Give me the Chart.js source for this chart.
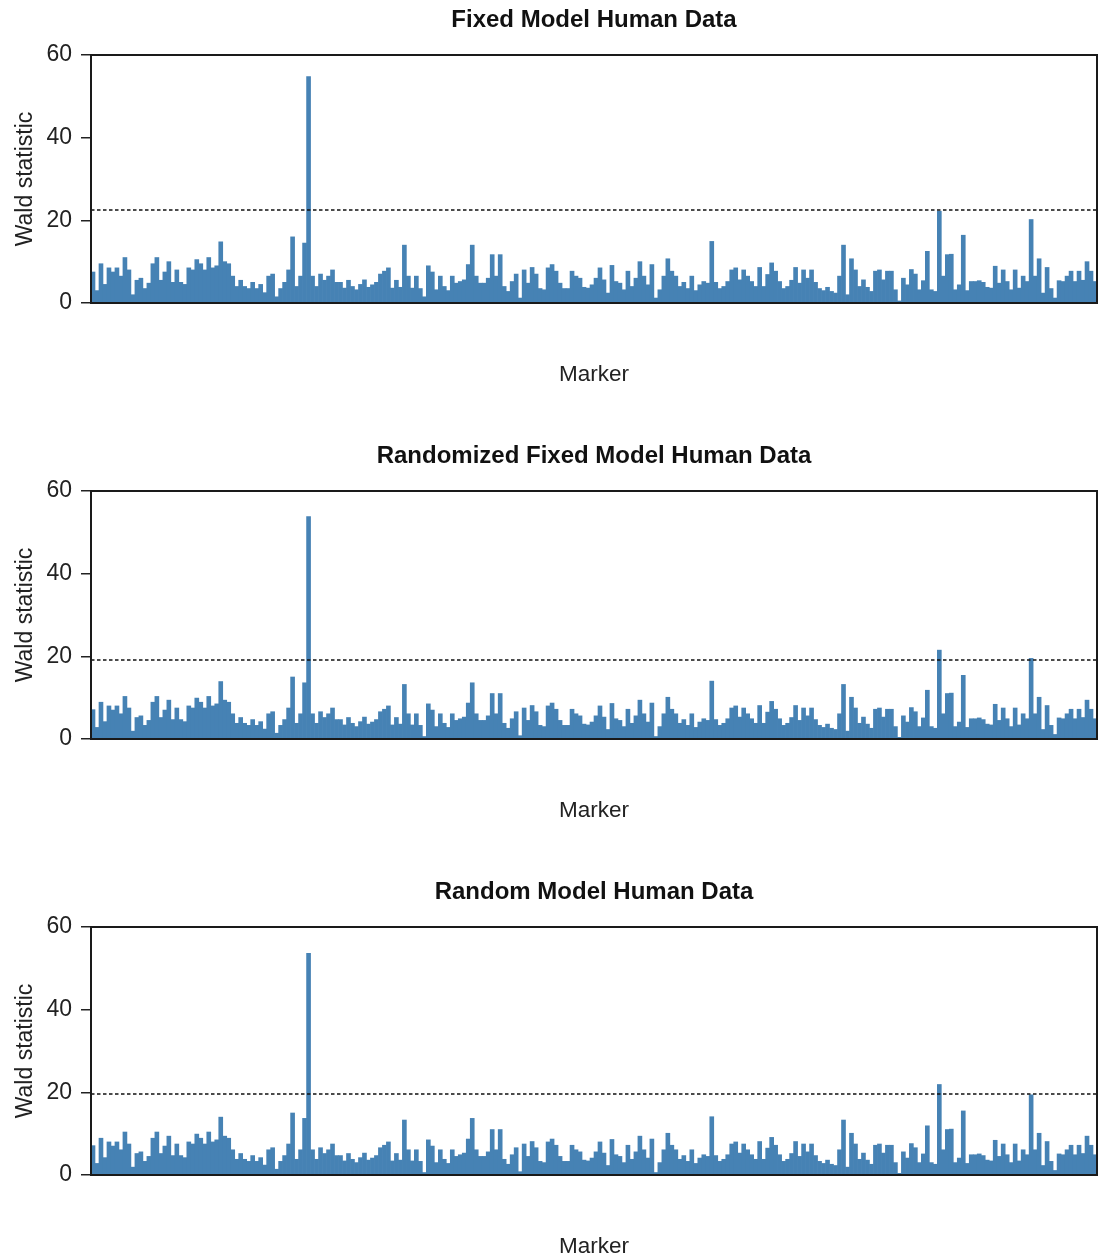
<!DOCTYPE html>
<html>
<head>
<meta charset="utf-8">
<title>Wald statistic by marker</title>
<script src="https://cdn.jsdelivr.net/npm/chart.js@4/dist/chart.umd.min.js"></script>
<style>
  html, body { margin: 0; padding: 0; background: #fff; overflow: hidden; }
  .panel { position: relative; width: 1099px; }
</style>
</head>
<body>
<div class="panel" style="height:436px"><canvas id="fixedChart"></canvas></div>
<div class="panel" style="height:436px"><canvas id="randomizedChart"></canvas></div>
<div class="panel" style="height:388px"><canvas id="randomChart"></canvas></div>
<script>
'use strict';

// Wald statistic per marker, one value per bar, left to right
const fixedWald = [
  7.5, 3.0, 9.5, 4.5, 8.5, 7.5, 8.5, 6.5, 11, 8, 2, 5.5,
  6, 3.5, 4.8, 9.5, 11, 5.5, 7.5, 10, 5, 8, 5, 4.5,
  8.5, 8, 10.5, 9.5, 8, 11, 8.5, 9, 14.8, 10, 9.5, 6.5,
  4, 5.5, 4, 3.5, 5, 3.5, 4.5, 2.5, 6.5, 7, 1.5, 3.5,
  5, 8, 16, 4, 6.5, 14.5, 54.8, 6.5, 4, 7, 5.5, 6.5,
  8, 5, 5.0, 3.6, 5.5, 4, 3.2, 4.5, 5.6, 3.8, 4.4, 5,
  7, 7.7, 8.5, 3.6, 5.5, 3.8, 14, 6.5, 3.6, 6.5, 3.5, 1.5,
  9, 7.5, 3.2, 6.5, 4, 3, 6.5, 4.8, 5.2, 5.6, 9.3, 14,
  6.5, 4.8, 4.8, 6, 11.7, 6.5, 11.7, 4, 2.8, 5.2, 7, 1.2,
  8, 4.8, 8.6, 7, 3.5, 3.2, 8.5, 9.3, 7.7, 4.8, 3.5, 3.5,
  7.7, 6.5, 6, 3.8, 3.6, 4.4, 6, 8.5, 5.6, 2.4, 9.1, 5.2,
  4.8, 3.2, 7.7, 4, 6, 10, 6.5, 4.4, 9.3, 1.2, 3.2, 6.5,
  10.7, 7.7, 6.5, 4, 5, 3.5, 6.5, 3, 4.4, 5.2, 4.8, 14.9,
  5, 3.5, 4, 5.2, 8, 8.5, 5.6, 8, 6.5, 5.2, 4, 8.6,
  4, 6.9, 9.7, 7.7, 5.2, 3.5, 4, 5.5, 8.6, 4.8, 8, 6,
  8, 5, 3.5, 3, 3.8, 2.8, 2.4, 6.5, 14, 2, 10.7, 8,
  4, 5.6, 3.8, 2.8, 7.7, 8, 5.6, 7.7, 7.7, 3.2, 0.5, 6,
  4.4, 8.1, 7, 3.2, 5.4, 12.5, 3.2, 2.8, 22.2, 6.5, 11.7, 11.8,
  3.2, 4.4, 16.4, 3, 5.2, 5.2, 5.4, 5, 3.8, 3.6, 8.9, 4.8,
  8, 5.2, 3.2, 8, 3.6, 6.5, 5.2, 20.2, 6.5, 10.7, 2.4, 8.6,
  3.5, 1.2, 5.4, 5.2, 6.5, 7.7, 5.2, 7.7, 5.5, 10, 7.7, 5.2
];

const randomizedWald = [
  7.1, 2.8, 8.9, 4.2, 8.0, 7.0, 8.0, 6.1, 10.3, 7.5, 1.9, 5.2,
  5.6, 3.3, 4.5, 8.9, 10.3, 5.2, 7.0, 9.4, 4.7, 7.5, 4.7, 4.2,
  8.0, 7.5, 9.9, 8.9, 7.5, 10.3, 8.0, 8.5, 13.9, 9.4, 8.9, 6.1,
  3.8, 5.2, 3.8, 3.3, 4.7, 3.3, 4.2, 2.4, 6.1, 6.6, 1.4, 3.3,
  4.7, 7.5, 15.0, 3.8, 6.1, 13.6, 53.8, 6.1, 3.8, 6.6, 5.2, 6.1,
  7.5, 4.7, 4.7, 3.4, 5.2, 3.8, 3.0, 4.2, 5.3, 3.6, 4.1, 4.7,
  6.6, 7.2, 8.0, 3.4, 5.2, 3.6, 13.2, 6.1, 3.4, 6.1, 3.3, 0.6,
  8.5, 7.0, 3.0, 6.1, 3.8, 2.8, 6.1, 4.5, 4.9, 5.3, 8.7, 13.6,
  6.1, 4.5, 4.5, 5.6, 11.0, 6.1, 11.0, 3.8, 2.6, 4.9, 6.6, 0.8,
  7.5, 4.5, 8.1, 6.6, 3.3, 3.0, 8.0, 8.7, 7.2, 4.5, 3.3, 3.3,
  7.2, 6.1, 5.6, 3.6, 3.4, 4.1, 5.6, 8.0, 5.3, 2.3, 8.6, 4.9,
  4.5, 3.0, 7.2, 3.8, 5.6, 9.4, 6.1, 4.1, 8.7, 0.6, 3.0, 6.1,
  10.1, 7.2, 6.1, 3.8, 4.7, 3.3, 6.1, 2.8, 4.1, 4.9, 4.5, 14.0,
  4.7, 3.3, 3.8, 4.9, 7.5, 8.0, 5.3, 7.5, 6.1, 4.9, 3.8, 8.1,
  3.8, 6.5, 9.1, 7.2, 4.9, 3.3, 3.8, 5.2, 8.1, 4.5, 7.5, 5.6,
  7.5, 4.7, 3.3, 2.8, 3.6, 2.6, 2.3, 6.1, 13.2, 1.9, 10.1, 7.5,
  3.8, 5.3, 3.6, 2.6, 7.2, 7.5, 5.3, 7.2, 7.2, 3.0, 0.4, 5.6,
  4.1, 7.6, 6.6, 3.0, 5.1, 11.8, 3.0, 2.6, 21.5, 6.1, 11.0, 11.1,
  3.0, 4.1, 15.4, 2.8, 4.9, 4.9, 5.1, 4.7, 3.6, 3.4, 8.4, 4.5,
  7.5, 4.9, 3.0, 7.5, 3.4, 6.1, 4.9, 19.5, 6.1, 10.1, 2.3, 8.1,
  3.3, 1.1, 5.1, 4.9, 6.1, 7.2, 4.9, 7.2, 5.2, 9.4, 7.2, 4.9
];

const randomWald = [
  7.1, 2.8, 8.9, 4.2, 8.0, 7.0, 8.0, 6.1, 10.4, 7.5, 1.9, 5.2,
  5.6, 3.3, 4.5, 8.9, 10.4, 5.2, 7.0, 9.4, 4.7, 7.5, 4.7, 4.2,
  8.0, 7.5, 9.9, 8.9, 7.5, 10.4, 8.0, 8.5, 14.0, 9.4, 8.9, 6.1,
  3.8, 5.2, 3.8, 3.3, 4.7, 3.3, 4.2, 2.4, 6.1, 6.6, 1.4, 3.3,
  4.7, 7.5, 15.0, 3.8, 6.1, 13.7, 53.6, 6.1, 3.8, 6.6, 5.2, 6.1,
  7.5, 4.7, 4.7, 3.4, 5.2, 3.8, 3.0, 4.2, 5.3, 3.6, 4.1, 4.7,
  6.6, 7.2, 8.0, 3.4, 5.2, 3.6, 13.3, 6.1, 3.4, 6.1, 3.3, 0.6,
  8.5, 7.0, 3.0, 6.1, 3.8, 2.8, 6.1, 4.5, 4.9, 5.3, 8.7, 13.7,
  6.1, 4.5, 4.5, 5.6, 11.0, 6.1, 11.0, 3.8, 2.6, 4.9, 6.6, 0.8,
  7.5, 4.5, 8.1, 6.6, 3.3, 3.0, 8.0, 8.7, 7.2, 4.5, 3.3, 3.3,
  7.2, 6.1, 5.6, 3.6, 3.4, 4.1, 5.6, 8.0, 5.3, 2.3, 8.6, 4.9,
  4.5, 3.0, 7.2, 3.8, 5.6, 9.4, 6.1, 4.1, 8.7, 0.6, 3.0, 6.1,
  10.1, 7.2, 6.1, 3.8, 4.7, 3.3, 6.1, 2.8, 4.1, 4.9, 4.5, 14.1,
  4.7, 3.3, 3.8, 4.9, 7.5, 8.0, 5.3, 7.5, 6.1, 4.9, 3.8, 8.1,
  3.8, 6.5, 9.1, 7.2, 4.9, 3.3, 3.8, 5.2, 8.1, 4.5, 7.5, 5.6,
  7.5, 4.7, 3.3, 2.8, 3.6, 2.6, 2.3, 6.1, 13.3, 1.9, 10.1, 7.5,
  3.8, 5.3, 3.6, 2.6, 7.2, 7.5, 5.3, 7.2, 7.2, 3.0, 0.4, 5.6,
  4.1, 7.6, 6.6, 3.0, 5.1, 11.9, 3.0, 2.6, 21.9, 6.1, 11.0, 11.1,
  3.0, 4.1, 15.5, 2.8, 4.9, 4.9, 5.1, 4.7, 3.6, 3.4, 8.4, 4.5,
  7.5, 4.9, 3.0, 7.5, 3.4, 6.1, 4.9, 19.4, 6.1, 10.1, 2.3, 8.1,
  3.3, 1.1, 5.1, 4.9, 6.1, 7.2, 4.9, 7.2, 5.2, 9.4, 7.2, 4.9
];

const yTicks = [0, 20, 40, 60];
const thresholds = [22.5, 19.1, 19.6];
const panelTitles = ['Fixed Model Human Data', 'Randomized Fixed Model Human Data', 'Random Model Human Data'];
const markers = fixedWald.map((_, i) => String(i + 1));

Chart.defaults.font.family = '"Liberation Sans", Arial, sans-serif';
Chart.defaults.color = '#222';

// dashed cut-off line plus the box around the plotting area
const thresholdLine = {
    id: 'thresholdLine',
    afterDatasetsDraw(chart, args, opts) {
        const { ctx, chartArea } = chart;
        const { left, right, top, bottom } = chartArea;
        const y = chart.scales.y.getPixelForValue(opts.value);
        ctx.save();
        ctx.strokeStyle = '#111';
        ctx.lineWidth = 1.6;
        ctx.setLineDash([3.5, 2.5]);
        ctx.beginPath();
        ctx.moveTo(left, y);
        ctx.lineTo(right, y);
        ctx.stroke();
        ctx.setLineDash([]);
        ctx.lineWidth = 2;
        ctx.strokeStyle = '#1a1a1a';
        ctx.strokeRect(left, top, right - left, bottom - top);
        ctx.restore();
    }
};

function drawPanel(canvasId, title, values, cutoff, panelHeight) {
    new Chart(document.getElementById(canvasId), {
        type: 'bar',
        data: {
            labels: markers,
            datasets: [{
                data: values,
                backgroundColor: '#4682b4',
                borderWidth: 0,
                categoryPercentage: 1.0,
                barPercentage: 1.0
            }]
        },
        options: {
            responsive: true,
            maintainAspectRatio: false,
            animation: false,
            layout: { padding: { left: 0, right: 2, top: 0, bottom: 0 } },
            plugins: {
                legend: { display: false },
                tooltip: { enabled: false },
                title: {
                    display: true,
                    fullSize: false,   // centre over the plot, not the canvas
                    text: title,
                    color: '#111',
                    font: { size: 24, weight: 'bold' },
                    padding: { top: 6, bottom: 20.2 }
                },
                thresholdLine: { value: cutoff }
            },
            scales: {
                x: {
                    grid: { display: false, drawTicks: false },
                    border: { display: false },
                    ticks: { display: false },
                    title: {
                        display: true,
                        text: 'Marker',
                        color: '#222',
                        font: { size: 22.5 },
                        padding: { top: 0, bottom: panelHeight - 375 - 13.5 }
                    },
                    afterFit: (scale) => { scale.height = panelHeight - 303; }
                },
                y: {
                    min: 0,
                    max: 60,
                    afterBuildTicks: (scale) => { scale.ticks = yTicks.map(v => ({ value: v })); },
                    grid: {
                        drawOnChartArea: false,
                        drawTicks: true,
                        tickLength: 10,
                        color: '#222',
                        lineWidth: 1.5
                    },
                    border: { display: false },
                    ticks: { color: '#222', font: { size: 23 }, padding: 9 },
                    title: {
                        display: true,
                        text: 'Wald statistic',
                        color: '#222',
                        font: { size: 23 },
                        padding: { top: 12, bottom: 0 }
                    },
                    afterFit: (scale) => { scale.width = 91; }
                }
            }
        },
        plugins: [thresholdLine]
    });
}

drawPanel('fixedChart', panelTitles[0], fixedWald, thresholds[0], 436);
drawPanel('randomizedChart', panelTitles[1], randomizedWald, thresholds[1], 436);
drawPanel('randomChart', panelTitles[2], randomWald, thresholds[2], 388);
</script>
</body>
</html>
